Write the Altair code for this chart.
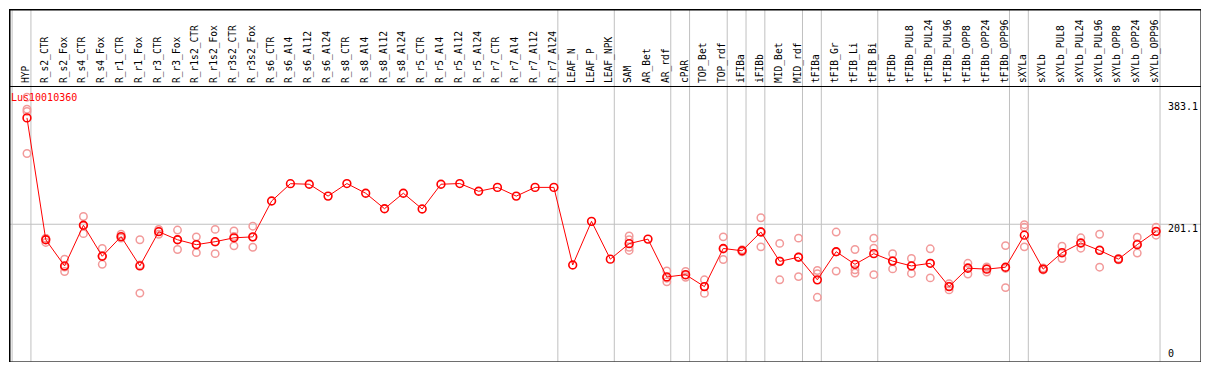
import altair as alt
import pandas as pd

categories = [
    "HYP", "R_s2_CTR", "R_s2_Fox", "R_s4_CTR", "R_s4_Fox", "R_r1_CTR", "R_r1_Fox",
    "R_r3_CTR", "R_r3_Fox", "R_r1s2_CTR", "R_r1s2_Fox", "R_r3s2_CTR", "R_r3s2_Fox",
    "R_s6_CTR", "R_s6_Al4", "R_s6_Al12", "R_s6_Al24", "R_s8_CTR", "R_s8_Al4",
    "R_s8_Al12", "R_s8_Al24", "R_r5_CTR", "R_r5_Al4", "R_r5_Al12", "R_r5_Al24",
    "R_r7_CTR", "R_r7_Al4", "R_r7_Al12", "R_r7_Al24", "LEAF_N", "LEAF_P", "LEAF_NPK",
    "SAM", "AR_Bet", "AR_rdf", "cPAR", "TOP_Bet", "TOP_rdf", "iFIBa", "iFIBb",
    "MID_Bet", "MID_rdf", "tFIBa", "tFIB_Gr", "tFIB_Li", "tFIB_Bi", "tFIBb",
    "tFIBb_PUL8", "tFIBb_PUL24", "tFIBb_PUL96", "tFIBb_OPP8", "tFIBb_OPP24",
    "tFIBb_OPP96", "sXYLa", "sXYLb", "sXYLb_PUL8", "sXYLb_PUL24", "sXYLb_PUL96",
    "sXYLb_OPP8", "sXYLb_OPP24", "sXYLb_OPP96",
]

means = [
    359.5, 178.0, 139.0, 199.6, 153.4, 182.7, 139.0, 190.0, 178.0, 170.7, 175.1,
    180.9, 182.3, 235.7, 261.5, 260.7, 243.0, 261.7, 247.3, 224.2, 247.3, 223.8,
    260.7, 261.7, 250.2, 256.0, 243.0, 256.0, 256.0, 140.4, 205.4, 149.1, 172.2,
    179.0, 122.6, 126.0, 108.2, 165.0, 161.6, 189.5, 145.8, 152.0, 118.3, 160.2,
    141.4, 157.3, 146.2, 139.0, 142.9, 108.2, 135.6, 134.2, 137.1, 184.8, 134.2,
    158.8, 173.2, 162.1, 149.1, 170.7, 190.5,
]

N = None
rep_a = [390.3, 180, 149.1, 212.6, 165.0, 186.2, 178.0, 193.4, 192.4, 182.3, 193.4, 191.0, 198.2,
         N, N, N, N, N, N, N, N, N, N, N, N, N, N, N, N, N, N, N,
         183.7, N, 131.7, 130.7, 118.3, 182.3, 160, 210.8, 172.6, 180.4, 132.2, 189.5, 163.5, 180.4,
         157.3, 150.1, 164.5, 112.5, 142.9, 137.5, 169.3, 200.4, 133, 168.3, 180.9, 186.2, 148, 181.9, 196.7]
rep_b = [372.5, 174, 130.7, 187.1, 141.4, 181.3, 98.5, 186.2, 163.5, 158.8, 157.3, 168.9, 166.8,
         N, N, N, N, N, N, N, N, N, N, N, N, N, N, N, N, N, N, N,
         178.0, N, 115.4, 122.1, 98.1, 148.6, 162, 167.4, 118.3, 123.1, 127.4, 131.3, 133.2, 165.4,
         134.6, 127.8, 121.2, 103.3, 127.0, 129.9, 106.7, 196.5, 135, 150.1, 165.4, 137.1, 150, 158.2, 184.8]
rep_c = [369.1, 180, 137.2, 199.1, 153.8, 180.6, 140.5, 190.4, 178.1, 171.0, 174.6, 182.8, 181.9,
         N, N, N, N, N, N, N, N, N, N, N, N, N, N, N, N, N, N, N,
         166.8, N, 120.7, 125.2, 108.2, 164.1, 163, 190.3, 146.5, 152.5, 92.3, 159.8, 128.4, 126.0,
         146.7, 139.1, 143.0, 108.8, 136.9, 135.2, 135.3, 167.4, 136, 158.0, 173.0, 163.0, 149, 172.0, 190.0]
rep_d = [306.5] + [N] * 31 + [162.1] + [N] * 28

group_ends = [-1, 0, 28, 31, 34, 35, 37, 38, 39, 41, 42, 45, 52, 53, 60]
hgrid_values = [201.1]
tick_values = [383.1, 201.1]
tick_labels = ["383.1", "201.1"]
zero_label = "0"
title_text = "Lus10010360"

W, H = 1193, 354
HEADER = 77
FONT = "DejaVu Sans Mono"

df = pd.DataFrame({"idx": list(range(len(categories))), "cat": categories, "mean": means})
rows = []
for i in range(len(categories)):
    for arr in (rep_a, rep_b, rep_c, rep_d):
        if arr[i] is not None:
            rows.append({"idx": i, "v": arr[i]})
reps = pd.DataFrame(rows)
vg = pd.DataFrame({"pos": [k + 0.21 for k in group_ends]})
hg = pd.DataFrame({"v": hgrid_values})
tk = pd.DataFrame({"v": tick_values, "lab": tick_labels})
zk = pd.DataFrame({"v": [0.0], "lab": [zero_label]})
one = pd.DataFrame({"a": [0]})

xs = alt.Scale(domain=[-0.955, 62.334], nice=False, zero=False)
ys = alt.Scale(domain=[-2.6, 521.7], nice=False, zero=False)

vgrid = alt.Chart(vg).mark_rule(color="#c0c0c0", strokeWidth=1).encode(
    x=alt.X("pos:Q", scale=xs, axis=None), y=alt.value(0), y2=alt.value(H))
hgrid = alt.Chart(hg).mark_rule(color="#c0c0c0", strokeWidth=1).encode(
    y=alt.Y("v:Q", scale=ys, axis=None), x=alt.value(0), x2=alt.value(W))
header = alt.Chart(one).mark_rule(color="black", strokeWidth=1).encode(
    x=alt.value(0), x2=alt.value(W), y=alt.value(HEADER + 0.5))
box_l = alt.Chart(one).mark_rule(color="black", strokeWidth=1.5).encode(
    x=alt.value(0.75), y=alt.value(0), y2=alt.value(H))
box_r = alt.Chart(one).mark_rule(color="black", strokeWidth=1.5).encode(
    x=alt.value(W - 0.75), y=alt.value(0), y2=alt.value(H))
box_t = alt.Chart(one).mark_rule(color="black", strokeWidth=1.5).encode(
    x=alt.value(0), x2=alt.value(W), y=alt.value(0.75))
box_b = alt.Chart(one).mark_rule(color="black", strokeWidth=1.5).encode(
    x=alt.value(0), x2=alt.value(W), y=alt.value(H - 0.75))

labels = alt.Chart(df).mark_text(
    angle=270, align="left", baseline="middle", font=FONT, fontSize=9.6, color="black", dy=-1
).encode(x=alt.X("idx:Q", scale=xs, axis=None), y=alt.value(HEADER - 3), text="cat:N")

rep_pts = alt.Chart(reps).mark_point(
    shape="circle", filled=False, color="#f29a9a", size=55, strokeWidth=1.5, opacity=1
).encode(x=alt.X("idx:Q", scale=xs, axis=None), y=alt.Y("v:Q", scale=ys, axis=None))

line = alt.Chart(df).mark_line(color="#ff0000", strokeWidth=1).encode(
    x=alt.X("idx:Q", scale=xs, axis=None), y=alt.Y("mean:Q", scale=ys, axis=None), order="idx:Q")

mean_pts = alt.Chart(df).mark_point(
    shape="circle", filled=False, color="#ff0000", size=60, strokeWidth=1.6, opacity=1
).encode(x=alt.X("idx:Q", scale=xs, axis=None), y=alt.Y("mean:Q", scale=ys, axis=None))

title = alt.Chart(one).mark_text(
    text=title_text, align="left", baseline="top", font=FONT, fontSize=10, color="#ff0000"
).encode(x=alt.value(2), y=alt.value(HEADER + 7))

ticks = alt.Chart(tk).mark_text(
    align="left", baseline="top", font=FONT, fontSize=10, color="black"
).encode(x=alt.value(1159), y=alt.Y("v:Q", scale=ys, axis=None), text="lab:N")
zero_t = alt.Chart(zk).mark_text(
    align="left", baseline="bottom", font=FONT, fontSize=10, color="black"
).encode(x=alt.value(1159), y=alt.Y("v:Q", scale=ys, axis=None), text="lab:N")

chart = alt.layer(
    vgrid, hgrid, header, box_l, box_r, box_t, box_b, labels,
    rep_pts, line, mean_pts, title, ticks, zero_t
).properties(
    width=W, height=H, padding=0,
    autosize=alt.AutoSizeParams(type="fit", contains="padding"),
).configure_view(stroke=None).configure(background="white")

chart.save("out.html", embed_options={"renderer": "svg", "actions": False})
